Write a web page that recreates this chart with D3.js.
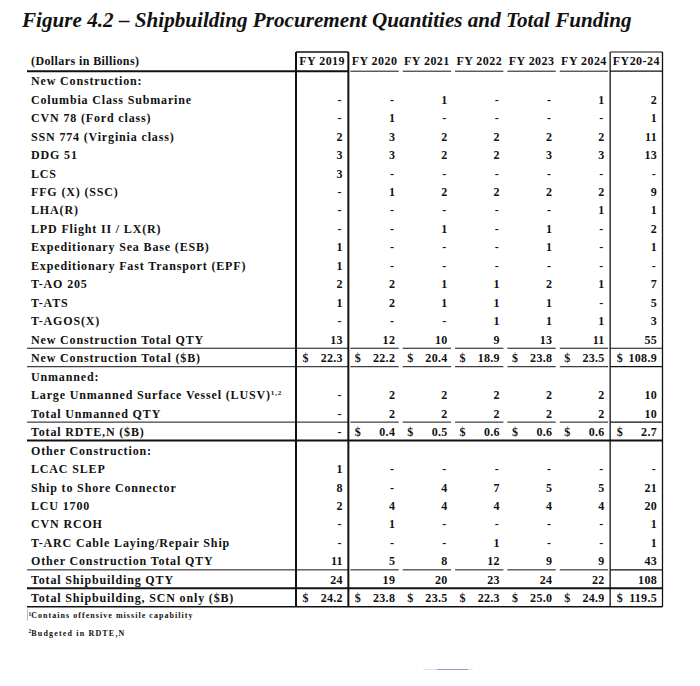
<!DOCTYPE html>
<html><head><meta charset="utf-8">
<script src="https://cdn.jsdelivr.net/npm/d3@7"></script>
<style>body{margin:0;background:#fff}</style>
</head><body><svg id="c" width="700" height="686"></svg>
<script>
const title = "Figure 4.2 – Shipbuilding Procurement Quantities and Total Funding";
const unitLabel = "(Dollars in Billions)";
const columns = ["FY 2019","FY 2020","FY 2021","FY 2022","FY 2023","FY 2024","FY20-24"];
const rowLabels = [
  "New Construction:","Columbia Class Submarine","CVN 78 (Ford class)","SSN 774 (Virginia class)","DDG 51","LCS",
  "FFG (X) (SSC)","LHA(R)","LPD Flight II / LX(R)","Expeditionary Sea Base (ESB)","Expeditionary Fast Transport (EPF)",
  "T-AO 205","T-ATS","T-AGOS(X)","New Construction Total QTY","New Construction Total ($B)",
  "Unmanned:","Large Unmanned Surface Vessel (LUSV)","Total Unmanned QTY","Total RDTE,N ($B)",
  "Other Construction:","LCAC SLEP","Ship to Shore Connector","LCU 1700","CVN RCOH","T-ARC Cable Laying/Repair Ship",
  "Other Construction Total QTY","Total Shipbuilding QTY","Total Shipbuilding, SCN only ($B)"
];
const rowKinds = [
  "section","qty","qty","qty","qty","qty","qty","qty","qty","qty","qty","qty","qty","qty","qty","usd",
  "section","qty","qty","usd","section","qty","qty","qty","qty","qty","qty","qty","usd"
];
const labelNotes = {17: "1,2"};
const fy2019 = [null,0,0,2,3,3,0,0,0,1,1,2,1,0,13,22.3,null,0,0,0,  null,1,8,2,0,0,11,24,24.2];
const fy2020 = [null,0,1,3,3,0,1,0,0,0,0,2,2,0,12,22.2,null,2,2,0.4,null,0,0,4,1,0,5,19,23.8];
const fy2021 = [null,1,0,2,2,0,2,0,1,0,0,1,1,0,10,20.4,null,2,2,0.5,null,0,4,4,0,0,8,20,23.5];
const fy2022 = [null,0,0,2,2,0,2,0,0,0,0,1,1,1,9,18.9, null,2,2,0.6,null,0,7,4,0,1,12,23,22.3];
const fy2023 = [null,0,0,2,3,0,2,0,1,1,0,2,1,1,13,23.8,null,2,2,0.6,null,0,5,4,0,0,9,24,25.0];
const fy2024 = [null,1,0,2,3,0,2,1,0,0,0,1,0,1,11,23.5,null,2,2,0.6,null,0,5,4,0,0,9,22,24.9];
const fy2024Total = [null,2,1,11,13,0,9,1,2,1,0,7,5,3,55,108.9,null,10,10,2.7,null,0,21,20,1,1,43,108,119.5];
const footnotes = [{mark:"1", text:"Contains offensive missile capability"},{mark:"2", text:"Budgeted in RDTE,N"}];

const seriesByColumn = [fy2019, fy2020, fy2021, fy2022, fy2023, fy2024, fy2024Total];

const svg = d3.select("#c");
const FONT = "'Liberation Serif', serif";
const ink = "#111";

// layout
const left = 27, labelX = 31;
const x = d3.scaleBand().domain(columns).range([296, 662.5]);
const y = d3.scaleBand().domain(d3.range(rowLabels.length)).range([71.2, 606.8]);
const headTop = 52, headBottom = y.range()[0], tableBottom = y.range()[1];
const bw = x.bandwidth();

// Title
const t = svg.append("text").attr("x", 22).attr("y", 27)
  .attr("font-family", "'Liberation Serif', serif").attr("font-weight", "bold").attr("font-style", "italic")
  .attr("font-size", 20).attr("fill", ink).text(title);
const tw = t.node().getComputedTextLength();
t.attr("font-size", 20 * 610 / tw);

// text group
const g = svg.append("g").attr("font-family", FONT).attr("font-weight", "bold").attr("fill", ink);
const FS = 12;

// header
g.append("text").attr("x", labelX).attr("y", headBottom - 6).attr("font-size", FS).attr("letter-spacing", 0.4).text(unitLabel);
g.selectAll(".hdr").data(columns).join("text").attr("class", "hdr")
  .attr("x", d => x(d) + bw / 2).attr("y", headBottom - 6).attr("text-anchor", "middle")
  .attr("font-size", FS).attr("letter-spacing", 0.45).text(d => d);

// labels
const labs = g.selectAll(".lab").data(rowLabels).join("text").attr("class", "lab")
  .attr("x", labelX).attr("y", (d, i) => y(i) + 14).attr("font-size", FS);
labs.append("tspan").text(d => d);
labs.filter((d, i) => labelNotes[i]).append("tspan")
  .attr("font-size", 7).attr("dy", -4.5).text(d => labelNotes[rowLabels.indexOf(d)]);

// fit label letter-spacing to reference width
const refNode = labs.filter((d, i) => i === 1).node();
const refW = refNode.getComputedTextLength();
const ls = (161 - refW) / (rowLabels[1].length);
labs.attr("letter-spacing", ls);

// cells
const cells = [];
columns.forEach((c, ci) => {
  seriesByColumn[ci].forEach((v, ri) => {
    if (v === null) return;
    cells.push({col: c, ci, row: ri, v, kind: rowKinds[ri]});
  });
});
const pad = 5.5;
g.selectAll(".val").data(cells).join("text").attr("class", "val")
  .attr("x", d => x(d.col) + bw - pad - (d.v === 0 ? 1 : 0))
  .attr("y", d => y(d.row) + 14).attr("text-anchor", "end").attr("font-size", FS).attr("letter-spacing", 0.3)
  .text(d => d.v === 0 ? "-" : (d.kind === "usd" ? d3.format(".1f")(d.v) : d3.format("d")(d.v)));
g.selectAll(".usd").data(cells.filter(d => d.kind === "usd" && d.v !== 0)).join("text").attr("class", "usd")
  .attr("x", d => x(d.col) + 6.5).attr("y", d => y(d.row) + 14).attr("font-size", FS).text("$");

// lines
const L = svg.append("g").attr("stroke", ink).attr("fill", "none");
const c19 = columns[0], cTot = columns[columns.length - 1];
const mids = columns.slice(1, -1);
function rule(yy, w, continuous) {
  if (continuous) {
    L.append("line").attr("x1", left).attr("x2", x(cTot) + bw).attr("y1", yy).attr("y2", yy).attr("stroke-width", w);
    return;
  }
  L.append("line").attr("x1", left).attr("x2", x(c19) + bw).attr("y1", yy).attr("y2", yy).attr("stroke-width", w);
  L.selectAll(null).data(mids).join("line")
    .attr("x1", d => x(d) + 2).attr("x2", d => x(d) + bw - 2).attr("y1", yy).attr("y2", yy).attr("stroke-width", 1);
  L.append("line").attr("x1", x(cTot)).attr("x2", x(cTot) + bw).attr("y1", yy).attr("y2", yy).attr("stroke-width", 1.2);
}
// header bottom
rule(headBottom, 2, false);
// separators: after row index
const rules = [{after: 14, w: 1, c: false}, {after: 15, w: 1, c: false}, {after: 18, w: 1, c: false},
  {after: 19, w: 2, c: true}, {after: 26, w: 1, c: false}, {after: 27, w: 2, c: true}, {after: 28, w: 1.4, c: true}];
rules.forEach(r => rule(y(r.after) + y.bandwidth(), r.w, r.c));

// boxes: FY2019 and FY20-24 columns
[[c19, 2, 1.6], [cTot, 1.3, 1.2]].forEach(([c, w, tw2]) => {
  L.append("line").attr("x1", x(c)).attr("x2", x(c)).attr("y1", headTop).attr("y2", tableBottom).attr("stroke-width", w);
  L.append("line").attr("x1", x(c) + bw).attr("x2", x(c) + bw).attr("y1", headTop).attr("y2", tableBottom).attr("stroke-width", w);
  L.append("line").attr("x1", x(c)).attr("x2", x(c) + bw).attr("y1", headTop).attr("y2", headTop).attr("stroke-width", tw2);
});

// footnotes
const fg = svg.append("g").attr("font-family", FONT).attr("font-weight", "bold").attr("fill", ink);
const fnTargets = [165, 97];
footnotes.forEach((f, i) => {
  const tt = fg.append("text").attr("x", 28.5).attr("y", tableBottom + 11.5 + i * 17.5).attr("font-size", 8);
  tt.append("tspan").attr("font-size", 5.5).attr("dy", -2.5).text(f.mark);
  const body = tt.append("tspan").attr("dy", 2.5).text(f.text);
  const w0 = tt.node().getComputedTextLength();
  body.attr("letter-spacing", (fnTargets[i] - w0) / f.text.length);
});
svg.append("line").attr("x1", 27.5).attr("x2", 27.5).attr("y1", tableBottom + 2).attr("y2", tableBottom + 14)
  .attr("stroke", "#bbb").attr("stroke-width", 1);

// faint artifact line at bottom
svg.append("line").attr("x1", 423).attr("x2", 473).attr("y1", 669.5).attr("y2", 669.5).attr("stroke", "#e2e2e8").attr("stroke-width", 1);
svg.append("line").attr("x1", 437).attr("x2", 468).attr("y1", 669.5).attr("y2", 669.5).attr("stroke", "#9a9ad0").attr("stroke-width", 1);
</script>
</body></html>
